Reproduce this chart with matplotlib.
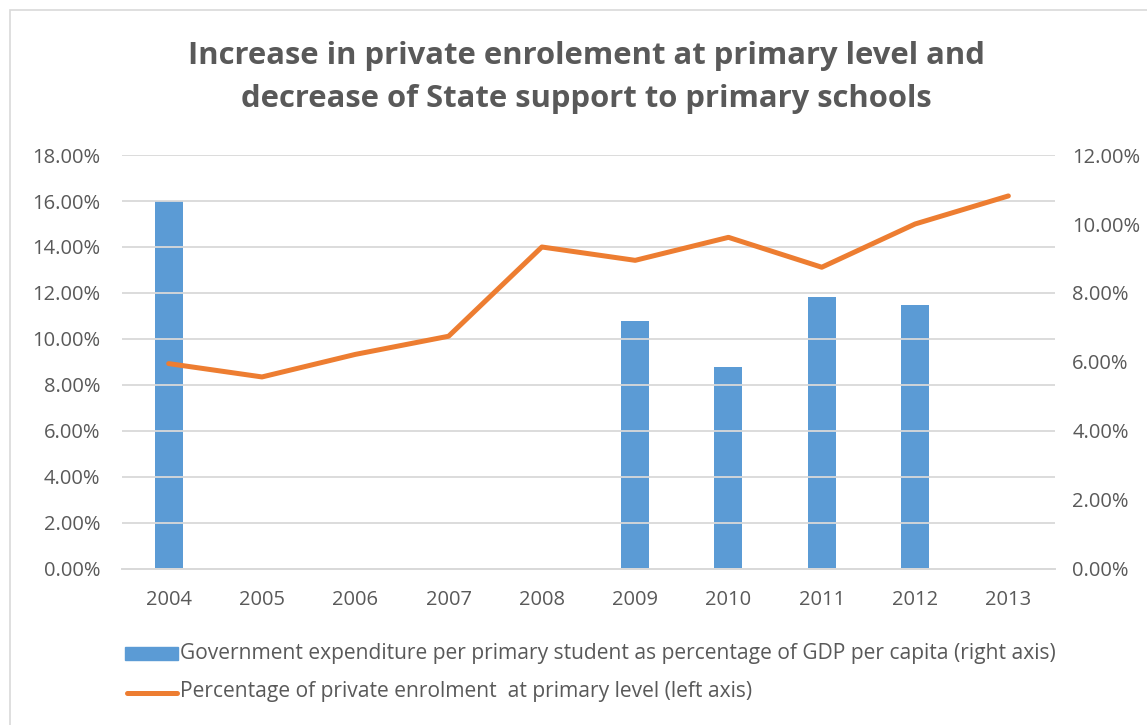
import matplotlib
matplotlib.use("Agg")
import matplotlib.pyplot as plt
from matplotlib.ticker import FuncFormatter, MultipleLocator
from matplotlib.patches import Rectangle
from matplotlib.lines import Line2D
import numpy as np

years = ["2004", "2005", "2006", "2007", "2008", "2009", "2010", "2011", "2012", "2013"]
gov_expenditure = [10.67, None, None, None, None, 7.19, 5.86, 7.89, 7.65, None]  # right axis, %
private_enrolment = [8.93, 8.35, 9.33, 10.12, 14.0, 13.42, 14.42, 13.12, 15.0, 16.22]  # left axis, %

title = "Increase in private enrolement at primary level and\ndecrease of State support to primary schools"
bar_label = "Government expenditure per primary student as percentage of GDP per capita (right axis)"
line_label = "Percentage of private enrolment  at primary level (left axis)"

BLUE = "#5B9BD5"
ORANGE = "#ED7D31"
GRID = "#D9D9D9"
TXT = "#595959"

plt.rcParams['font.family'] = ['Open Sans', 'DejaVu Sans']

fig = plt.figure(figsize=(11.47, 7.25), dpi=100)
ax = fig.add_axes([0.1064, 0.2152, 0.9198 - 0.1064, 0.7862 - 0.2152])
ax2 = ax.twinx()

x = np.arange(len(years))
bx = [i for i, v in enumerate(gov_expenditure) if v is not None]
bv = [v for v in gov_expenditure if v is not None]

ax2.bar(bx, bv, width=0.3, color=BLUE, zorder=2)
ax2.set_ylim(0, 12)
ax2.yaxis.set_major_locator(MultipleLocator(2))
ax2.yaxis.set_major_formatter(FuncFormatter(lambda v, p: f"{v:.2f}%"))

ax.set_ylim(0, 18)
ax.yaxis.set_major_locator(MultipleLocator(2))
ax.yaxis.set_major_formatter(FuncFormatter(lambda v, p: f"{v:.2f}%"))
ax.set_xlim(-0.5, len(years) - 0.5)
ax.set_xticks(x)
ax.set_xticklabels(years)
ax.grid(axis='y', color=GRID, linewidth=1.3, zorder=0)
ax.set_axisbelow(True)

# Line drawn on top of bars: put ax above ax2
ax.set_zorder(ax2.get_zorder() + 1)
ax.patch.set_visible(False)
ax.plot(x, private_enrolment, color=ORANGE, linewidth=3.6, solid_capstyle='round', zorder=3)

for a in (ax, ax2):
    for s in ("top", "left", "right"):
        a.spines[s].set_visible(False)
    a.spines["bottom"].set_color(GRID)
    a.spines["bottom"].set_linewidth(1.3)
    a.tick_params(length=0, colors=TXT, labelsize=14.5)
ax.tick_params(axis='y', pad=15.5)
ax2.tick_params(axis='y', pad=12.5)
ax.tick_params(axis='x', pad=15)

fig.text(586 / 1147, 1 - 77.5 / 725, title, ha='center', va='center', fontsize=22.3,
         fontweight='bold', color=TXT, linespacing=1.55)

# Legend (manual placement)
fig.patches.append(Rectangle((125 / 1147, 1 - 660 / 725), 53 / 1147, 13 / 725,
                             transform=fig.transFigure, color=BLUE))
fig.text(180 / 1147, 1 - 654 / 725, bar_label, ha='left', va='center', fontsize=15.1, color=TXT)
fig.lines.append(Line2D([127 / 1147, 177 / 1147], [1 - 693 / 725, 1 - 693 / 725],
                        transform=fig.transFigure, color=ORANGE, linewidth=3.6,
                        solid_capstyle='round'))
fig.text(180 / 1147, 1 - 692 / 725, line_label, ha='left', va='center', fontsize=15.1, color=TXT)

# Outer chart border
fig.patches.append(Rectangle((10 / 1147, -0.01), 1.02, 1 - 10 / 725 + 0.01,
                             transform=fig.transFigure, fill=False, edgecolor=GRID, linewidth=1.2))

fig.savefig("out.png", dpi=100)
